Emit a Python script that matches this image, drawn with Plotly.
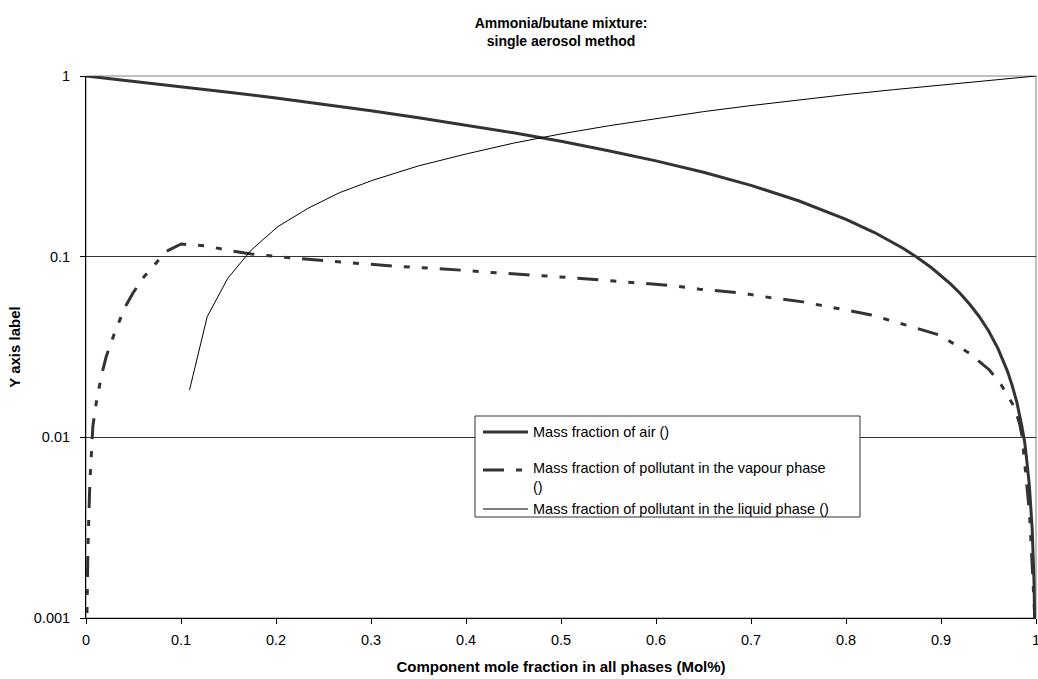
import plotly.graph_objects as go

# Component mole fraction (x) and mass fractions read for each series
air_x = [0.0, 0.05, 0.1, 0.15, 0.2, 0.25, 0.3, 0.35, 0.4, 0.45, 0.5, 0.55, 0.6,
         0.65, 0.7, 0.75, 0.8, 0.83, 0.86, 0.875, 0.89, 0.9, 0.91, 0.92, 0.93,
         0.94, 0.95, 0.96, 0.97, 0.975, 0.98, 0.985, 0.988, 0.99, 0.993, 0.996,
         0.998, 0.9995]
air_y = [1.0, 0.936, 0.874, 0.813, 0.755, 0.698, 0.642, 0.588, 0.536, 0.485,
         0.435, 0.386, 0.339, 0.293, 0.248, 0.204, 0.161, 0.136, 0.1113, 0.099,
         0.0868, 0.0787, 0.0707, 0.0627, 0.0547, 0.0468, 0.0389, 0.031, 0.0232,
         0.0193, 0.0155, 0.0116, 0.0095, 0.0077, 0.0054, 0.0031, 0.00154, 0.00038]

vap_x = [0.0005, 0.001, 0.002, 0.004, 0.0072, 0.0107, 0.016, 0.0213, 0.030,
         0.0405, 0.0493, 0.0598, 0.0721, 0.0844, 0.1002, 0.1265, 0.1546, 0.174,
         0.2037, 0.2388, 0.2739, 0.323, 0.349, 0.395, 0.423, 0.4703, 0.4966,
         0.544, 0.570, 0.6177, 0.6458, 0.691, 0.7195, 0.7545, 0.791, 0.8265,
         0.8634, 0.898, 0.930, 0.951, 0.9634, 0.977, 0.9826, 0.9855, 0.9932,
         0.9984, 0.9995]
vap_y = [0.0007, 0.0012, 0.0024, 0.0055, 0.0115, 0.0154, 0.0217, 0.028, 0.0377,
         0.0518, 0.0627, 0.076, 0.0899, 0.107, 0.1175, 0.1146, 0.1072, 0.1036,
         0.0998, 0.0959, 0.0928, 0.0888, 0.0874, 0.0842, 0.082, 0.0792, 0.0774,
         0.0742, 0.0721, 0.069, 0.0661, 0.0628, 0.0594, 0.0562, 0.0517, 0.0476,
         0.0418, 0.0369, 0.0292, 0.0236, 0.0195, 0.0148, 0.012, 0.01, 0.0038,
         0.0011, 0.0005]

liq_x = [0.109, 0.1276, 0.1493, 0.174, 0.2019, 0.2335, 0.2668, 0.302, 0.35, 0.4,
         0.45, 0.5, 0.55, 0.6, 0.65, 0.7, 0.75, 0.8, 0.85, 0.9, 0.95, 1.0]
liq_y = [0.0183, 0.0466, 0.076, 0.1089, 0.1466, 0.185, 0.226, 0.265, 0.318, 0.37,
         0.425, 0.478, 0.53, 0.582, 0.635, 0.686, 0.737, 0.789, 0.84, 0.893,
         0.946, 1.0]

series_names = [
    "Mass fraction of air ()",
    "Mass fraction of pollutant in the vapour phase<br>()",
    "Mass fraction of pollutant in the liquid phase ()",
]

y_tickvals = [0.001, 0.01, 0.1, 1]
y_ticktext = ["0.001", "0.01", "0.1", "1"]
x_tickvals = [0, 0.1, 0.2, 0.3, 0.4, 0.5, 0.6, 0.7, 0.8, 0.9, 1]
x_ticktext = ["0", "0.1", "0.2", "0.3", "0.4", "0.5", "0.6", "0.7", "0.8", "0.9", "1"]

FONT = "Liberation Sans, Arial, sans-serif"
W, H = 1038, 679
ML, MR, MT, MB = 86, 2, 76, 61
PW, PH = W - ML - MR, H - MT - MB

VAPOUR_DASH = "21px,12px,6px,12px,6px,12px"
styles = [
    dict(color="#333333", width=3),
    dict(color="#333333", width=3, dash=VAPOUR_DASH),
    dict(color="#000000", width=1),
]


def px_x(px):
    return (px - ML) / PW


def px_y(py):
    return (H - MB - py) / PH


fig = go.Figure()
for xs, ys, name, st in zip([air_x, vap_x, liq_x], [air_y, vap_y, liq_y],
                            series_names, styles):
    fig.add_trace(go.Scatter(x=xs, y=ys, mode="lines", name=name, line=st,
                             showlegend=False))

# grey plot-area frame
fig.add_shape(type="rect", xref="paper", yref="paper", x0=0, x1=1, y0=0, y1=1,
              line=dict(color="#808080", width=1), layer="below")

# boxed key inside the plot area
fig.add_shape(type="rect", xref="paper", yref="paper",
              x0=px_x(475), x1=px_x(860), y0=px_y(517), y1=px_y(416),
              line=dict(color="#333333", width=1), fillcolor="white", layer="above")
key_rows = [432, 470, 509]
text_rows = [432, 477.5, 509]
for name, st, ry, ty in zip(series_names, styles, key_rows, text_rows):
    fig.add_shape(type="line", xref="paper", yref="paper",
                  x0=px_x(483), x1=px_x(528), y0=px_y(ry), y1=px_y(ry),
                  line=st, layer="above")
    fig.add_annotation(xref="paper", yref="paper", x=px_x(531), y=px_y(ty),
                       xanchor="left", yanchor="middle", align="left",
                       text=name, showarrow=False,
                       font=dict(family=FONT, size=14.5, color="#000000"))

fig.update_layout(
    width=W, height=H,
    margin=dict(l=ML, r=MR, t=MT, b=MB, autoexpand=False),
    paper_bgcolor="white", plot_bgcolor="white",
    font=dict(family=FONT, size=14.5, color="#000000"),
    title=dict(text="<b>Ammonia/butane mixture:<br>single aerosol method</b>",
               x=(ML + W - MR) / 2 / W, xanchor="center",
               y=(H - 28) / H, yanchor="middle",
               font=dict(family=FONT, size=14, color="#000000")),
    showlegend=False,
    xaxis=dict(range=[0, 1], tickvals=x_tickvals, ticktext=x_ticktext,
               automargin=False,
               showgrid=False, zeroline=False, showline=True, linecolor="#000000",
               linewidth=1, ticks="outside", ticklen=5, tickcolor="#000000",
               ticklabelstandoff=4, ticklabeloverflow="allow",
               title=dict(text="<b>Component mole fraction in all phases (Mol%)</b>",
                          font=dict(family=FONT, size=15), standoff=14)),
    yaxis=dict(type="log", range=[-3, 0], tickvals=y_tickvals, ticktext=y_ticktext,
               automargin=False,
               showgrid=True, gridcolor="#333333", gridwidth=1, zeroline=False,
               showline=True, linecolor="#000000", linewidth=1, ticks="outside",
               ticklen=5, tickcolor="#000000", ticklabelstandoff=7,
               title=dict(text="<b>Y axis label</b>",
                          font=dict(family=FONT, size=15), standoff=9)),
)

fig.write_html("out.html")
